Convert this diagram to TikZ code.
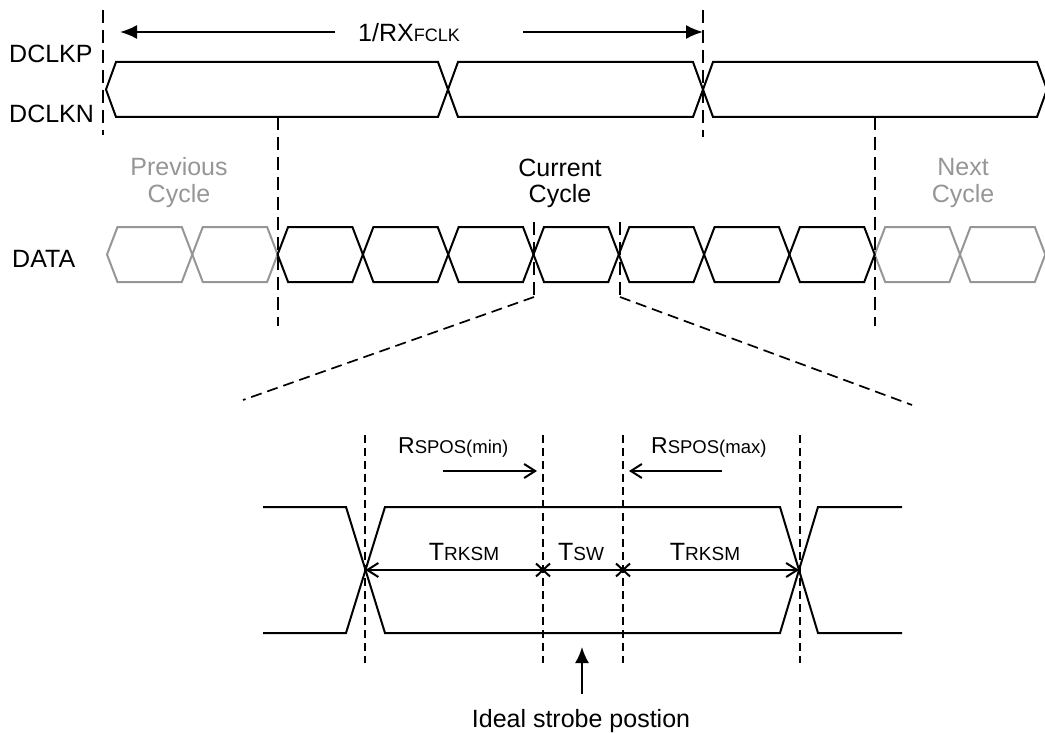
\documentclass[tikz,border=0pt]{standalone}
\usepackage{fontspec}
\setmainfont{Liberation Sans}
\usetikzlibrary{arrows.meta}
\definecolor{prevgray}{RGB}{150,150,150}
\newcommand\fsz[1]{\fontsize{#1}{#1}\selectfont}
\begin{document}
\begin{tikzpicture}[x=1pt,y=-1pt,
  sig/.style={line width=2pt, line join=miter},
  graysig/.style={sig, draw=prevgray},
  bigdash/.style={line width=2pt, dash pattern=on 13pt off 7pt},
  diagdash/.style={line width=1.7pt, dash pattern=on 11pt off 6pt},
  smalldash/.style={line width=1.6pt, dash pattern=on 8pt off 5pt},
  lbl/.style={font=\fsz{25}, inner sep=0pt},
  fillarrow/.style={sig, -{Latex[length=17pt,width=14pt]}},
  openarrow/.style={sig, -{Straight Barb[length=11pt,width=14pt]}},
  xmark/.style={line width=2pt}]
\useasboundingbox (0,0) rectangle (1045,733);

% ---------- DCLK ----------
\foreach \a/\b in {106/448, 448/703, 703/1047}
  \draw[sig] (\a,89.5) -- (\a+10,62) -- (\b-10,62) -- (\b,89.5) -- (\b-10,117) -- (\a+10,117) -- cycle;

% ---------- DATA ----------
\foreach \k in {0,1,9,10} {
  \pgfmathsetmacro\a{107+85.3*\k}
  \pgfmathsetmacro\b{\a+85.3}
  \draw[graysig] (\a,254.5) -- (\a+10.5,227) -- (\b-10.5,227) -- (\b,254.5) -- (\b-10.5,282) -- (\a+10.5,282) -- cycle;
}
\foreach \k in {2,...,8} {
  \pgfmathsetmacro\a{107+85.3*\k}
  \pgfmathsetmacro\b{\a+85.3}
  \draw[sig] (\a,254.5) -- (\a+10.5,227) -- (\b-10.5,227) -- (\b,254.5) -- (\b-10.5,282) -- (\a+10.5,282) -- cycle;
}

% ---------- upper dashed lines ----------
\draw[bigdash] (103,10) -- (103,135);
\draw[bigdash] (703,10) -- (703,137);
\draw[bigdash] (278,117) -- (278,326);
\draw[bigdash] (875,117) -- (875,326);
\draw[bigdash] (534,222) -- (534,296);
\draw[bigdash] (620,222) -- (620,296);
\draw[diagdash] (534,297) -- (243,400);
\draw[diagdash] (620,297) -- (912,405);

% ---------- 1/RXFCLK ----------
\coordinate (rxa) at (335,32);
\coordinate (rxb) at (120,32);
\coordinate (rxc) at (523,32);
\coordinate (rxd) at (703,32);
\draw[fillarrow] (rxa) -- (rxb);
\draw[fillarrow] (rxc) -- (rxd);
\node[lbl, anchor=base west] (rx) at (358,42) {1/RX{\fsz{18}FCLK}};

% ---------- labels ----------
\node[lbl, anchor=base west] (dclkp) at (9,63) {DCLKP};
\node[lbl, anchor=base west] (dclkn) at (9,123) {DCLKN};
\node[lbl, anchor=base west] (data) at (12,267) {DATA};
\node[lbl, text=prevgray, anchor=base] (prev1) at (179,176) {Previous};
\node[lbl, text=prevgray, anchor=base] (prev2) at (179,203) {Cycle};
\node[lbl, anchor=base] (cur1) at (560,177) {Current};
\node[lbl, anchor=base] (cur2) at (560,203) {Cycle};
\node[lbl, text=prevgray, anchor=base] (next1) at (963,176) {Next};
\node[lbl, text=prevgray, anchor=base] (next2) at (963,203) {Cycle};

% ---------- zoomed eye ----------
\foreach \x in {365,543,623,800}
  \draw[smalldash] (\x,435) -- (\x,663);

\draw[sig] (263,507) -- (346,507) -- (385,633) -- (780,633) -- (818,507) -- (902,507);
\draw[sig] (263,633) -- (346,633) -- (385,507) -- (780,507) -- (818,633) -- (902,633);

\coordinate (edgeL) at (365.5,570);
\coordinate (xm1) at (543,570);
\coordinate (xm2) at (623,570);
\coordinate (edgeR) at (799,570);
\draw[openarrow] (xm1) -- (edgeL);
\draw[sig] (xm1) -- (xm2);
\draw[openarrow] (xm2) -- (edgeR);
\draw[xmark] (xm1) +(-7,-6.5) -- +(7,6.5) (xm1) +(-7,6.5) -- +(7,-6.5);
\draw[xmark] (xm2) +(-7,-6.5) -- +(7,6.5) (xm2) +(-7,6.5) -- +(7,-6.5);

\node[lbl, anchor=base] (trk1) at (464,560) {{\fsz{25}T}{\fsz{19}RKSM}};
\node[lbl, anchor=base] (tsw) at (581,560) {{\fsz{25}T}{\fsz{19}SW}};
\node[lbl, anchor=base] (trk2) at (705,560) {{\fsz{25}T}{\fsz{19}RKSM}};

\coordinate (rmina) at (443,471);
\coordinate (rminb) at (537,471);
\coordinate (rmaxa) at (722,471);
\coordinate (rmaxb) at (629,471);
\draw[openarrow] (rmina) -- (rminb);
\draw[openarrow] (rmaxa) -- (rmaxb);
\node[lbl, anchor=base west] (rmin) at (398,453) {{\fsz{23}R}{\fsz{18.5}SPOS(min)}};
\node[lbl, anchor=base west] (rmax) at (651,453) {{\fsz{23}R}{\fsz{18.5}SPOS(max)}};

\node[lbl, anchor=base] (ideal) at (581,727) {Ideal strobe postion};
\coordinate (stb) at (582,647);
\draw[sig, -{Latex[length=16pt,width=14pt]}] (ideal.north -| stb) ++(0,-15) -- (stb);
\end{tikzpicture}
\end{document}
